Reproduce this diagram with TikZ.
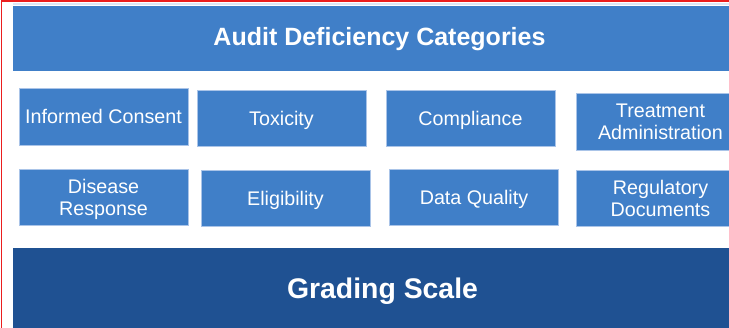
\documentclass[tikz,border=0pt]{standalone}
\usepackage{fontspec}
\setmainfont{Liberation Sans}
\definecolor{boxblue}{RGB}{64,127,200}
\definecolor{boxedge}{RGB}{170,196,232}
\definecolor{darkblue}{RGB}{31,81,146}
\definecolor{framered}{RGB}{235,30,30}
\begin{document}
\begin{tikzpicture}[x=1pt,y=-1pt,
  catbox/.style={fill=boxblue,draw=boxedge,line width=0.8pt,text=white,
    minimum width=169pt,minimum height=56pt,inner sep=0pt,align=center,
    text depth=0pt,font=\fontsize{19.7}{22}\selectfont},
  banner/.style={fill=boxblue,inner sep=0pt},
  gradebar/.style={fill=darkblue,inner sep=0pt}]
\useasboundingbox (0,0) rectangle (729,328);
\clip (0,0) rectangle (729,328);
\fill[white] (0,0) rectangle (729,328);
\draw[framered,line width=2.5pt] (1,1.2) -- (729,1.2);
\draw[framered,line width=1pt] (1.5,0) -- (1.5,328);
\fill[boxedge!40] (13,3.5) rectangle (729,5);
% title banner
\node[banner,minimum width=740pt,minimum height=65pt,anchor=north west] (title) at (13,6) {};
\node[anchor=base,text=white,font=\bfseries\fontsize{25}{28}\selectfont] (titletext) at (379.5,46) {Audit Deficiency Categories};
% category boxes
\node[catbox,minimum height=57pt] (ic) at (103.5,116.5) {Informed Consent};
\node[catbox] (tox) at (281.5,118) {Toxicity};
\node[catbox] (comp) at (470.5,118) {Compliance};
\node[catbox,minimum height=57pt] (ta) at (660.5,121.5) {Treatment\\Administration};
\node[catbox] (dr) at (103.5,197) {Disease\\Response};
\node[catbox] (elig) at (285.5,198) {Eligibility};
\node[catbox] (dq) at (474,197) {Data Quality};
\node[catbox] (rd) at (660.5,198) {Regulatory\\Documents};
% grading scale
\node[gradebar,minimum width=740pt,minimum height=90pt,anchor=north west] (grade) at (13,248) {};
\node[anchor=base,text=white,font=\bfseries\fontsize{28.4}{32}\selectfont] (gradetext) at (382.5,299) {Grading Scale};
\end{tikzpicture}
\end{document}
